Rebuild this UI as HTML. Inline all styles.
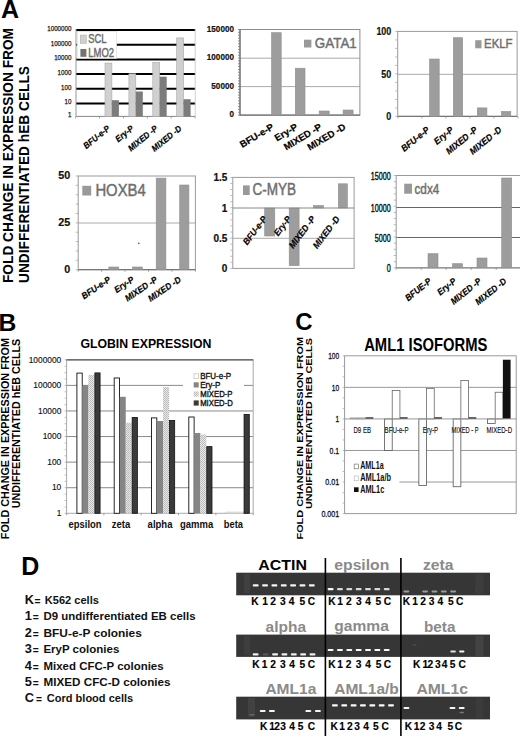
<!DOCTYPE html><html><head><meta charset="utf-8"><style>html,body{margin:0;padding:0;background:#fff;width:520px;height:738px;overflow:hidden}svg{display:block;font-family:"Liberation Sans",sans-serif}</style></head><body>
<svg width="520" height="738" viewBox="0 0 520 738">
<defs><pattern id="hatch" width="2" height="2" patternUnits="userSpaceOnUse"><rect width="2" height="2" fill="#e8e8e8"/><rect width="1" height="1" fill="#b8b8b8"/><rect x="1" y="1" width="1" height="1" fill="#c0c0c0"/></pattern></defs>
<rect width="520" height="738" fill="#fff"/>
<text x="0.9" y="17.8" font-size="25" font-weight="bold">A</text>
<text transform="translate(12.7 283) rotate(-90)" font-size="14.2" font-weight="bold" textLength="255" lengthAdjust="spacingAndGlyphs">FOLD CHANGE IN EXPRESSION FROM</text>
<text transform="translate(29 283) rotate(-90)" font-size="14.2" font-weight="bold" textLength="217" lengthAdjust="spacingAndGlyphs">UNDIFFERENTIATED hEB CELLS</text>
<line x1="76" y1="30" x2="195.2" y2="30" stroke="#000" stroke-width="2"/>
<line x1="76" y1="44.7" x2="195.2" y2="44.7" stroke="#000" stroke-width="2"/>
<line x1="76" y1="59.4" x2="195.2" y2="59.4" stroke="#000" stroke-width="2"/>
<line x1="76" y1="74.1" x2="195.2" y2="74.1" stroke="#000" stroke-width="2"/>
<line x1="76" y1="88.8" x2="195.2" y2="88.8" stroke="#000" stroke-width="2"/>
<line x1="76" y1="103.4" x2="195.2" y2="103.4" stroke="#000" stroke-width="2"/>
<line x1="76" y1="116.4" x2="195.2" y2="116.4" stroke="#888" stroke-width="1"/>
<line x1="76" y1="29" x2="76" y2="116.4" stroke="#999" stroke-width="1"/>
<line x1="195.2" y1="29" x2="195.2" y2="116.4" stroke="#c4c4c4" stroke-width="0.8"/>
<line x1="75.6" y1="116.4" x2="75.6" y2="118.4" stroke="#888" stroke-width="0.8"/>
<line x1="99.5" y1="116.4" x2="99.5" y2="118.4" stroke="#888" stroke-width="0.8"/>
<line x1="123.4" y1="116.4" x2="123.4" y2="118.4" stroke="#888" stroke-width="0.8"/>
<line x1="147.3" y1="116.4" x2="147.3" y2="118.4" stroke="#888" stroke-width="0.8"/>
<line x1="171.2" y1="116.4" x2="171.2" y2="118.4" stroke="#888" stroke-width="0.8"/>
<line x1="195.1" y1="116.4" x2="195.1" y2="118.4" stroke="#888" stroke-width="0.8"/>
<text x="71.4" y="30.9" font-size="7.8" text-anchor="end" fill="#111" textLength="24.15" lengthAdjust="spacingAndGlyphs" stroke="#111" stroke-width="0.25">1000000</text>
<text x="71.4" y="45.6" font-size="7.8" text-anchor="end" fill="#111" textLength="20.7" lengthAdjust="spacingAndGlyphs" stroke="#111" stroke-width="0.25">100000</text>
<text x="71.4" y="60.3" font-size="7.8" text-anchor="end" fill="#111" textLength="17.25" lengthAdjust="spacingAndGlyphs" stroke="#111" stroke-width="0.25">10000</text>
<text x="71.4" y="75" font-size="7.8" text-anchor="end" fill="#111" textLength="13.8" lengthAdjust="spacingAndGlyphs" stroke="#111" stroke-width="0.25">1000</text>
<text x="71.4" y="89.7" font-size="7.8" text-anchor="end" fill="#111" textLength="10.35" lengthAdjust="spacingAndGlyphs" stroke="#111" stroke-width="0.25">100</text>
<text x="71.4" y="104.3" font-size="7.8" text-anchor="end" fill="#111" textLength="6.9" lengthAdjust="spacingAndGlyphs" stroke="#111" stroke-width="0.25">10</text>
<text x="71.4" y="117.3" font-size="7.8" text-anchor="end" fill="#111" textLength="3.45" lengthAdjust="spacingAndGlyphs" stroke="#111" stroke-width="0.25">1</text>
<rect x="105" y="63.1" width="6.9" height="53.3" fill="#d0d0d0" stroke="#a8a8a8" stroke-width="0.6"/>
<rect x="111.9" y="100.2" width="7" height="16.2" fill="#7c7c7c"/>
<rect x="128.9" y="73.8" width="6.9" height="42.6" fill="#d0d0d0" stroke="#a8a8a8" stroke-width="0.6"/>
<rect x="135.8" y="91.5" width="7" height="24.9" fill="#7c7c7c"/>
<rect x="152.8" y="62.3" width="6.9" height="54.1" fill="#d0d0d0" stroke="#a8a8a8" stroke-width="0.6"/>
<rect x="159.7" y="76.7" width="7" height="39.7" fill="#7c7c7c"/>
<rect x="176.7" y="37.9" width="6.9" height="78.5" fill="#d0d0d0" stroke="#a8a8a8" stroke-width="0.6"/>
<rect x="183.6" y="99.2" width="7" height="17.2" fill="#7c7c7c"/>
<rect x="77.2" y="31.4" width="39.5" height="27" fill="#fff" stroke="#d8d8d8" stroke-width="0.6"/>
<rect x="80.3" y="35.1" width="6" height="8.3" fill="#d0d0d0" stroke="#b0b0b0" stroke-width="0.6"/>
<text x="88.3" y="42.9" font-size="12.2" fill="#686868" textLength="18.2" lengthAdjust="spacingAndGlyphs" stroke="#6e6e6e" stroke-width="0.45">SCL</text>
<rect x="80.4" y="49" width="6" height="7.8" fill="#737373"/>
<text x="88.3" y="56.8" font-size="12.2" fill="#686868" textLength="25.8" lengthAdjust="spacingAndGlyphs" stroke="#6e6e6e" stroke-width="0.45">LMO2</text>
<text transform="translate(110.5 129.6) rotate(-39) scale(0.89 1)" font-size="8.9" font-weight="bold" font-style="italic" text-anchor="end" stroke="#000" stroke-width="0.2">BFU-e-P</text>
<text transform="translate(134.4 129.6) rotate(-39) scale(0.89 1)" font-size="8.9" font-weight="bold" font-style="italic" text-anchor="end" stroke="#000" stroke-width="0.2">Ery-P</text>
<text transform="translate(158.3 129.6) rotate(-39) scale(0.89 1)" font-size="8.9" font-weight="bold" font-style="italic" text-anchor="end" stroke="#000" stroke-width="0.2">MIXED -P</text>
<text transform="translate(182.2 129.6) rotate(-39) scale(0.89 1)" font-size="8.9" font-weight="bold" font-style="italic" text-anchor="end" stroke="#000" stroke-width="0.2">MIXED -D</text>
<line x1="240" y1="58.2" x2="359.9" y2="58.2" stroke="#aaa" stroke-width="1"/>
<line x1="240" y1="86.6" x2="359.9" y2="86.6" stroke="#aaa" stroke-width="1"/>
<rect x="240" y="29.5" width="119.9" height="85.6" fill="none" stroke="#8c8c8c" stroke-width="1"/>
<line x1="240" y1="115.1" x2="359.9" y2="115.1" stroke="#777" stroke-width="1.2"/>
<line x1="240" y1="29.5" x2="240" y2="115.1" stroke="#6a6a6a" stroke-width="1.1"/>
<path d="M238 115.1h2M238 112.25h2M238 109.39h2M238 106.54h2M238 103.69h2M238 100.83h2M238 97.98h2M238 95.13h2M238 92.27h2M238 89.42h2M238 86.57h2M238 83.71h2M238 80.86h2M238 78.01h2M238 75.15h2M238 72.3h2M238 69.45h2M238 66.59h2M238 63.74h2M238 60.89h2M238 58.03h2M238 55.18h2M238 52.33h2M238 49.47h2M238 46.62h2M238 43.77h2M238 40.91h2M238 38.06h2M238 35.21h2M238 32.35h2M238 29.5h2" stroke="#777" stroke-width="0.8" fill="none"/>
<text x="234" y="31.6" font-size="9.2" font-weight="bold" text-anchor="end" fill="#111" textLength="27.18" lengthAdjust="spacingAndGlyphs" stroke="#111" stroke-width="0.2">150000</text>
<text x="234" y="60.3" font-size="9.2" font-weight="bold" text-anchor="end" fill="#111" textLength="27.18" lengthAdjust="spacingAndGlyphs" stroke="#111" stroke-width="0.2">100000</text>
<text x="234" y="88.7" font-size="9.2" font-weight="bold" text-anchor="end" fill="#111" textLength="22.65" lengthAdjust="spacingAndGlyphs" stroke="#111" stroke-width="0.2">50000</text>
<text x="234" y="117.2" font-size="9.2" font-weight="bold" text-anchor="end" fill="#111" textLength="4.53" lengthAdjust="spacingAndGlyphs" stroke="#111" stroke-width="0.2">0</text>
<rect x="271.6" y="32.7" width="9.6" height="82.4" fill="#9d9d9d" stroke="#8e8e8e" stroke-width="0.6"/>
<rect x="295.3" y="68.2" width="9.7" height="46.9" fill="#9d9d9d" stroke="#8e8e8e" stroke-width="0.6"/>
<rect x="319.2" y="111" width="10" height="4.1" fill="#9d9d9d" stroke="#8e8e8e" stroke-width="0.6"/>
<rect x="343.1" y="110" width="10" height="5.1" fill="#9d9d9d" stroke="#8e8e8e" stroke-width="0.6"/>
<rect x="304" y="39.7" width="7.4" height="7.8" fill="#999"/>
<text x="314.8" y="47.6" font-size="14.6" fill="#6e6e6e" textLength="42" lengthAdjust="spacingAndGlyphs" stroke="#6e6e6e" stroke-width="0.45">GATA1</text>
<text transform="translate(274.4 128.7) rotate(-31)" font-size="9.5" font-weight="bold" text-anchor="end" stroke="#000" stroke-width="0.2">BFU-e-P</text>
<text transform="translate(298.4 128.7) rotate(-31)" font-size="9.5" font-weight="bold" text-anchor="end" stroke="#000" stroke-width="0.2">Ery-P</text>
<text transform="translate(322.4 128.7) rotate(-31)" font-size="9.5" font-weight="bold" text-anchor="end" stroke="#000" stroke-width="0.2">MIXED -P</text>
<text transform="translate(346.4 128.7) rotate(-31)" font-size="9.5" font-weight="bold" text-anchor="end" stroke="#000" stroke-width="0.2">MIXED -D</text>
<line x1="397.7" y1="74.3" x2="517.1" y2="74.3" stroke="#aaa" stroke-width="1"/>
<rect x="397.7" y="31.4" width="119.4" height="85" fill="none" stroke="#999" stroke-width="1"/>
<line x1="397.7" y1="116.4" x2="517.1" y2="116.4" stroke="#777" stroke-width="1.2"/>
<path d="M395.2 116.4h2.5M395.2 107.9h2.5M395.2 99.4h2.5M395.2 90.9h2.5M395.2 82.4h2.5M395.2 73.9h2.5M395.2 65.4h2.5M395.2 56.9h2.5M395.2 48.4h2.5M395.2 39.9h2.5M395.2 31.4h2.5" stroke="#aaa" stroke-width="0.8" fill="none"/>
<text x="391.3" y="34.8" font-size="11.2" font-weight="bold" text-anchor="end" fill="#111" textLength="14.91" lengthAdjust="spacingAndGlyphs" stroke="#111" stroke-width="0.2">100</text>
<text x="391.3" y="77.7" font-size="11.2" font-weight="bold" text-anchor="end" fill="#111" textLength="9.94" lengthAdjust="spacingAndGlyphs" stroke="#111" stroke-width="0.2">50</text>
<text x="391.3" y="119.8" font-size="11.2" font-weight="bold" text-anchor="end" fill="#111" textLength="4.97" lengthAdjust="spacingAndGlyphs" stroke="#111" stroke-width="0.2">0</text>
<rect x="429.6" y="59" width="9.6" height="57.4" fill="#9d9d9d" stroke="#8e8e8e" stroke-width="0.6"/>
<rect x="453.3" y="37.7" width="9.4" height="78.7" fill="#9d9d9d" stroke="#8e8e8e" stroke-width="0.6"/>
<rect x="477.3" y="107.9" width="9.6" height="8.5" fill="#9d9d9d" stroke="#8e8e8e" stroke-width="0.6"/>
<rect x="501.5" y="111.5" width="9.3" height="4.9" fill="#9d9d9d" stroke="#8e8e8e" stroke-width="0.6"/>
<line x1="398" y1="116.4" x2="398" y2="118.4" stroke="#888" stroke-width="0.8"/>
<line x1="422" y1="116.4" x2="422" y2="118.4" stroke="#888" stroke-width="0.8"/>
<line x1="446" y1="116.4" x2="446" y2="118.4" stroke="#888" stroke-width="0.8"/>
<line x1="470" y1="116.4" x2="470" y2="118.4" stroke="#888" stroke-width="0.8"/>
<line x1="494" y1="116.4" x2="494" y2="118.4" stroke="#888" stroke-width="0.8"/>
<line x1="518" y1="116.4" x2="518" y2="118.4" stroke="#888" stroke-width="0.8"/>
<rect x="475.2" y="40.2" width="6.3" height="8.1" fill="#999"/>
<text x="484" y="48.4" font-size="13.6" fill="#6e6e6e" textLength="28.6" lengthAdjust="spacingAndGlyphs" stroke="#6e6e6e" stroke-width="0.45">EKLF</text>
<text transform="translate(430.2 131) rotate(-39) scale(0.91 1)" font-size="9.3" font-weight="bold" font-style="italic" text-anchor="end" stroke="#000" stroke-width="0.2">BFU-e-P</text>
<text transform="translate(454.2 131) rotate(-39) scale(0.91 1)" font-size="9.3" font-weight="bold" font-style="italic" text-anchor="end" stroke="#000" stroke-width="0.2">Ery-P</text>
<text transform="translate(478.2 131) rotate(-39) scale(0.91 1)" font-size="9.3" font-weight="bold" font-style="italic" text-anchor="end" stroke="#000" stroke-width="0.2">MIXED -P</text>
<text transform="translate(502.2 131) rotate(-39) scale(0.91 1)" font-size="9.3" font-weight="bold" font-style="italic" text-anchor="end" stroke="#000" stroke-width="0.2">MIXED -D</text>
<line x1="78.2" y1="223" x2="195.4" y2="223" stroke="#aaa" stroke-width="1"/>
<rect x="78.2" y="176" width="117.2" height="93.7" fill="none" stroke="#999" stroke-width="1"/>
<line x1="78.2" y1="269.7" x2="195.4" y2="269.7" stroke="#777" stroke-width="1.2"/>
<path d="M75.7 269.7h2.5M75.7 260.33h2.5M75.7 250.96h2.5M75.7 241.59h2.5M75.7 232.22h2.5M75.7 222.85h2.5M75.7 213.48h2.5M75.7 204.11h2.5M75.7 194.74h2.5M75.7 185.37h2.5M75.7 176h2.5" stroke="#aaa" stroke-width="0.8" fill="none"/>
<line x1="78.2" y1="269.7" x2="78.2" y2="271.7" stroke="#888" stroke-width="0.8"/>
<line x1="101.64" y1="269.7" x2="101.64" y2="271.7" stroke="#888" stroke-width="0.8"/>
<line x1="125.08" y1="269.7" x2="125.08" y2="271.7" stroke="#888" stroke-width="0.8"/>
<line x1="148.52" y1="269.7" x2="148.52" y2="271.7" stroke="#888" stroke-width="0.8"/>
<line x1="171.96" y1="269.7" x2="171.96" y2="271.7" stroke="#888" stroke-width="0.8"/>
<line x1="195.4" y1="269.7" x2="195.4" y2="271.7" stroke="#888" stroke-width="0.8"/>
<text x="70.2" y="179.2" font-size="11.8" font-weight="bold" text-anchor="end" fill="#111" textLength="12" lengthAdjust="spacingAndGlyphs" stroke="#111" stroke-width="0.2">50</text>
<text x="70.2" y="226.2" font-size="11.8" font-weight="bold" text-anchor="end" fill="#111" textLength="12" lengthAdjust="spacingAndGlyphs" stroke="#111" stroke-width="0.2">25</text>
<text x="70.2" y="272.9" font-size="11.8" font-weight="bold" text-anchor="end" fill="#111" textLength="6" lengthAdjust="spacingAndGlyphs" stroke="#111" stroke-width="0.2">0</text>
<rect x="108.8" y="267" width="10" height="2.7" fill="#9d9d9d" stroke="#8e8e8e" stroke-width="0.6"/>
<rect x="132.6" y="267" width="9.7" height="2.7" fill="#9d9d9d" stroke="#8e8e8e" stroke-width="0.6"/>
<rect x="156.2" y="178.1" width="9.7" height="91.6" fill="#9d9d9d" stroke="#8e8e8e" stroke-width="0.6"/>
<rect x="179.7" y="185" width="9.2" height="84.7" fill="#9d9d9d" stroke="#8e8e8e" stroke-width="0.6"/>
<circle cx="138.8" cy="243.4" r="0.8" fill="#555"/>
<rect x="82.3" y="185.8" width="8.9" height="9.7" fill="#999"/>
<text x="95.4" y="195.7" font-size="16" fill="#6e6e6e" textLength="50.3" lengthAdjust="spacingAndGlyphs" stroke="#6e6e6e" stroke-width="0.45">HOXB4</text>
<text transform="translate(111.34 281) rotate(-34) scale(0.93 1)" font-size="9" font-weight="bold" font-style="italic" text-anchor="end" stroke="#000" stroke-width="0.2">BFU-e-P</text>
<text transform="translate(134.78 281) rotate(-34) scale(0.93 1)" font-size="9" font-weight="bold" font-style="italic" text-anchor="end" stroke="#000" stroke-width="0.2">Ery-P</text>
<text transform="translate(158.22 281) rotate(-34) scale(0.93 1)" font-size="9" font-weight="bold" font-style="italic" text-anchor="end" stroke="#000" stroke-width="0.2">MIXED -P</text>
<text transform="translate(181.66 281) rotate(-34) scale(0.93 1)" font-size="9" font-weight="bold" font-style="italic" text-anchor="end" stroke="#000" stroke-width="0.2">MIXED -D</text>
<line x1="232.8" y1="238.3" x2="354.1" y2="238.3" stroke="#aaa" stroke-width="1"/>
<rect x="232.8" y="177.4" width="121.3" height="91" fill="none" stroke="#999" stroke-width="1"/>
<path d="M230.3 268.4h2.5M230.3 262.33h2.5M230.3 256.27h2.5M230.3 250.2h2.5M230.3 244.13h2.5M230.3 238.07h2.5M230.3 232h2.5M230.3 225.93h2.5M230.3 219.87h2.5M230.3 213.8h2.5M230.3 207.73h2.5M230.3 201.67h2.5M230.3 195.6h2.5M230.3 189.53h2.5M230.3 183.47h2.5M230.3 177.4h2.5" stroke="#aaa" stroke-width="0.8" fill="none"/>
<rect x="264.7" y="208" width="10.1" height="28" fill="#9d9d9d" stroke="#8e8e8e" stroke-width="0.6"/>
<rect x="289.2" y="208" width="9.9" height="57.6" fill="#9d9d9d" stroke="#8e8e8e" stroke-width="0.6"/>
<rect x="313.5" y="205.5" width="10" height="2.5" fill="#9d9d9d" stroke="#8e8e8e" stroke-width="0.6"/>
<rect x="338.3" y="183.8" width="9.1" height="24.2" fill="#9d9d9d" stroke="#8e8e8e" stroke-width="0.6"/>
<line x1="232.8" y1="208" x2="354.1" y2="208" stroke="#888" stroke-width="1"/>
<text x="227.4" y="181" font-size="10" font-weight="bold" text-anchor="end" fill="#111" stroke="#111" stroke-width="0.2">1.5</text>
<text x="227.4" y="211.6" font-size="10" font-weight="bold" text-anchor="end" fill="#111" stroke="#111" stroke-width="0.2">1</text>
<text x="227.4" y="241.9" font-size="10" font-weight="bold" text-anchor="end" fill="#111" stroke="#111" stroke-width="0.2">0.5</text>
<text x="227.4" y="272" font-size="10" font-weight="bold" text-anchor="end" fill="#111" stroke="#111" stroke-width="0.2">0</text>
<rect x="243" y="185.4" width="6.7" height="9.6" fill="#999"/>
<text x="252.5" y="195.4" font-size="15.6" fill="#6e6e6e" textLength="43.6" lengthAdjust="spacingAndGlyphs" stroke="#6e6e6e" stroke-width="0.45">C-MYB</text>
<text transform="translate(267.36 219) rotate(-53) scale(0.93 1)" font-size="9.1" font-weight="bold" font-style="italic" text-anchor="end" stroke="#000" stroke-width="0.2">BFU-e-P</text>
<text transform="translate(291.62 219) rotate(-53) scale(0.93 1)" font-size="9.1" font-weight="bold" font-style="italic" text-anchor="end" stroke="#000" stroke-width="0.2">Ery-P</text>
<text transform="translate(315.88 219) rotate(-53) scale(0.93 1)" font-size="9.1" font-weight="bold" font-style="italic" text-anchor="end" stroke="#000" stroke-width="0.2">MIXED -P</text>
<text transform="translate(340.14 219) rotate(-53) scale(0.93 1)" font-size="9.1" font-weight="bold" font-style="italic" text-anchor="end" stroke="#000" stroke-width="0.2">MIXED -D</text>
<line x1="396.2" y1="207.5" x2="521" y2="207.5" stroke="#666" stroke-width="1.2"/>
<line x1="396.2" y1="237.5" x2="521" y2="237.5" stroke="#666" stroke-width="1.2"/>
<line x1="396.2" y1="175.5" x2="521" y2="175.5" stroke="#999" stroke-width="1"/>
<line x1="396.2" y1="175.5" x2="396.2" y2="267.8" stroke="#999" stroke-width="1"/>
<line x1="396.2" y1="267.8" x2="521" y2="267.8" stroke="#777" stroke-width="1.2"/>
<path d="M393.7 267.8h2.5M393.7 261.65h2.5M393.7 255.49h2.5M393.7 249.34h2.5M393.7 243.19h2.5M393.7 237.03h2.5M393.7 230.88h2.5M393.7 224.73h2.5M393.7 218.57h2.5M393.7 212.42h2.5M393.7 206.27h2.5M393.7 200.11h2.5M393.7 193.96h2.5M393.7 187.81h2.5M393.7 181.65h2.5M393.7 175.5h2.5" stroke="#aaa" stroke-width="0.8" fill="none"/>
<line x1="396.2" y1="267.8" x2="396.2" y2="269.8" stroke="#888" stroke-width="0.8"/>
<line x1="421.2" y1="267.8" x2="421.2" y2="269.8" stroke="#888" stroke-width="0.8"/>
<line x1="446.2" y1="267.8" x2="446.2" y2="269.8" stroke="#888" stroke-width="0.8"/>
<line x1="471.2" y1="267.8" x2="471.2" y2="269.8" stroke="#888" stroke-width="0.8"/>
<line x1="496.2" y1="267.8" x2="496.2" y2="269.8" stroke="#888" stroke-width="0.8"/>
<line x1="521.2" y1="267.8" x2="521.2" y2="269.8" stroke="#888" stroke-width="0.8"/>
<text x="390.8" y="179.6" font-size="10.2" text-anchor="end" fill="#111" textLength="20" lengthAdjust="spacingAndGlyphs" stroke="#111" stroke-width="0.4">15000</text>
<text x="390.8" y="211.6" font-size="10.2" text-anchor="end" fill="#111" textLength="20" lengthAdjust="spacingAndGlyphs" stroke="#111" stroke-width="0.4">10000</text>
<text x="390.8" y="241.6" font-size="10.2" text-anchor="end" fill="#111" textLength="16" lengthAdjust="spacingAndGlyphs" stroke="#111" stroke-width="0.4">5000</text>
<text x="390.8" y="271.9" font-size="10.2" text-anchor="end" fill="#111" textLength="4" lengthAdjust="spacingAndGlyphs" stroke="#111" stroke-width="0.4">0</text>
<rect x="428" y="253.7" width="10" height="14.1" fill="#9d9d9d" stroke="#8e8e8e" stroke-width="0.6"/>
<rect x="452.5" y="263.7" width="10" height="4.1" fill="#9d9d9d" stroke="#8e8e8e" stroke-width="0.6"/>
<rect x="477" y="258" width="10" height="9.8" fill="#9d9d9d" stroke="#8e8e8e" stroke-width="0.6"/>
<rect x="501.7" y="178" width="10" height="89.8" fill="#9d9d9d" stroke="#8e8e8e" stroke-width="0.6"/>
<rect x="404.2" y="183.7" width="7.8" height="10" fill="#999"/>
<text x="414.5" y="194.2" font-size="14.3" fill="#6e6e6e" textLength="24.8" lengthAdjust="spacingAndGlyphs" stroke="#6e6e6e" stroke-width="0.45">cdx4</text>
<text transform="translate(432 282.4) rotate(-38.7) scale(0.89 1)" font-size="9.2" font-weight="bold" font-style="italic" text-anchor="end" stroke="#000" stroke-width="0.2">BFUE-P</text>
<text transform="translate(457 282.4) rotate(-38.7) scale(0.89 1)" font-size="9.2" font-weight="bold" font-style="italic" text-anchor="end" stroke="#000" stroke-width="0.2">Ery-P</text>
<text transform="translate(482 282.4) rotate(-38.7) scale(0.89 1)" font-size="9.2" font-weight="bold" font-style="italic" text-anchor="end" stroke="#000" stroke-width="0.2">MIXED -P</text>
<text transform="translate(507 282.4) rotate(-38.7) scale(0.89 1)" font-size="9.2" font-weight="bold" font-style="italic" text-anchor="end" stroke="#000" stroke-width="0.2">MIXED -D</text>
<text x="-1.6" y="330.6" font-size="24.7" font-weight="bold">B</text>
<text transform="translate(8.6 539.2) rotate(-90)" font-size="10" font-weight="bold" textLength="201.2" lengthAdjust="spacingAndGlyphs">FOLD CHANGE IN EXPRESSION FROM</text>
<text transform="translate(19.6 508.3) rotate(-90)" font-size="10" font-weight="bold" textLength="169.5" lengthAdjust="spacingAndGlyphs">UNDIFFERENTIATED hEB CELLS</text>
<text x="80.4" y="347.7" font-size="12" font-weight="bold" textLength="131" lengthAdjust="spacingAndGlyphs">GLOBIN EXPRESSION</text>
<line x1="66.6" y1="385.38" x2="253.2" y2="385.38" stroke="#8a8a8a" stroke-width="1"/>
<line x1="66.6" y1="410.97" x2="253.2" y2="410.97" stroke="#8a8a8a" stroke-width="1"/>
<line x1="66.6" y1="436.55" x2="253.2" y2="436.55" stroke="#8a8a8a" stroke-width="1"/>
<line x1="66.6" y1="462.13" x2="253.2" y2="462.13" stroke="#8a8a8a" stroke-width="1"/>
<line x1="66.6" y1="487.72" x2="253.2" y2="487.72" stroke="#8a8a8a" stroke-width="1"/>
<rect x="66.6" y="359.8" width="186.6" height="153.5" fill="none" stroke="#aaa" stroke-width="1"/>
<line x1="66.6" y1="359.8" x2="253.2" y2="359.8" stroke="#555" stroke-width="1.3"/>
<path d="M64.6 513.3h2M64.6 506.9h2M64.6 500.51h2M64.6 494.11h2M64.6 487.72h2M64.6 481.32h2M64.6 474.92h2M64.6 468.53h2M64.6 462.13h2M64.6 455.74h2M64.6 449.34h2M64.6 442.95h2M64.6 436.55h2M64.6 430.15h2M64.6 423.76h2M64.6 417.36h2M64.6 410.97h2M64.6 404.57h2M64.6 398.18h2M64.6 391.78h2M64.6 385.38h2M64.6 378.99h2M64.6 372.59h2M64.6 366.2h2M64.6 359.8h2" stroke="#aaa" stroke-width="0.8" fill="none"/>
<line x1="66.6" y1="513.3" x2="66.6" y2="515.3" stroke="#888" stroke-width="0.8"/>
<line x1="103.92" y1="513.3" x2="103.92" y2="515.3" stroke="#888" stroke-width="0.8"/>
<line x1="141.24" y1="513.3" x2="141.24" y2="515.3" stroke="#888" stroke-width="0.8"/>
<line x1="178.56" y1="513.3" x2="178.56" y2="515.3" stroke="#888" stroke-width="0.8"/>
<line x1="215.88" y1="513.3" x2="215.88" y2="515.3" stroke="#888" stroke-width="0.8"/>
<line x1="253.2" y1="513.3" x2="253.2" y2="515.3" stroke="#888" stroke-width="0.8"/>
<text x="61.3" y="362.5" font-size="9.2" text-anchor="end" fill="#111" textLength="32.62" lengthAdjust="spacingAndGlyphs" stroke="#111" stroke-width="0.15">1000000</text>
<text x="61.3" y="388.08" font-size="9.2" text-anchor="end" fill="#111" textLength="27.96" lengthAdjust="spacingAndGlyphs" stroke="#111" stroke-width="0.15">100000</text>
<text x="61.3" y="413.67" font-size="9.2" text-anchor="end" fill="#111" textLength="23.3" lengthAdjust="spacingAndGlyphs" stroke="#111" stroke-width="0.15">10000</text>
<text x="61.3" y="439.25" font-size="9.2" text-anchor="end" fill="#111" textLength="18.64" lengthAdjust="spacingAndGlyphs" stroke="#111" stroke-width="0.15">1000</text>
<text x="61.3" y="464.83" font-size="9.2" text-anchor="end" fill="#111" textLength="13.98" lengthAdjust="spacingAndGlyphs" stroke="#111" stroke-width="0.15">100</text>
<text x="61.3" y="490.42" font-size="9.2" text-anchor="end" fill="#111" textLength="9.32" lengthAdjust="spacingAndGlyphs" stroke="#111" stroke-width="0.15">10</text>
<text x="61.3" y="516" font-size="9.2" text-anchor="end" fill="#111" textLength="4.66" lengthAdjust="spacingAndGlyphs" stroke="#111" stroke-width="0.15">1</text>
<rect x="183" y="368" width="61" height="42" fill="#fff"/>
<rect x="76.9" y="373.1" width="5.32" height="140.2" fill="#fff" stroke="#111" stroke-width="0.9"/>
<rect x="82.42" y="385.3" width="6.02" height="128" fill="#858585"/>
<rect x="88.44" y="374.8" width="6.02" height="138.5" fill="url(#hatch)"/>
<rect x="94.86" y="372.9" width="5.22" height="140.4" fill="#3a3a3a" stroke="#111" stroke-width="0.8"/>
<rect x="114.2" y="378" width="5.32" height="135.3" fill="#fff" stroke="#111" stroke-width="0.9"/>
<rect x="119.72" y="396.8" width="6.02" height="116.5" fill="#858585"/>
<rect x="125.74" y="422.7" width="6.02" height="90.6" fill="url(#hatch)"/>
<rect x="132.16" y="417.4" width="5.22" height="95.9" fill="#3a3a3a" stroke="#111" stroke-width="0.8"/>
<rect x="151.5" y="417.9" width="5.32" height="95.4" fill="#fff" stroke="#111" stroke-width="0.9"/>
<rect x="157.02" y="421" width="6.02" height="92.3" fill="#858585"/>
<rect x="163.04" y="387" width="6.02" height="126.3" fill="url(#hatch)"/>
<rect x="169.46" y="420.4" width="5.22" height="92.9" fill="#3a3a3a" stroke="#111" stroke-width="0.8"/>
<rect x="188.8" y="417" width="5.32" height="96.3" fill="#fff" stroke="#111" stroke-width="0.9"/>
<rect x="194.32" y="433" width="6.02" height="80.3" fill="#858585"/>
<rect x="200.34" y="434.5" width="6.02" height="78.8" fill="url(#hatch)"/>
<rect x="206.76" y="446.6" width="5.22" height="66.7" fill="#3a3a3a" stroke="#111" stroke-width="0.8"/>
<rect x="225.6" y="511.8" width="18.06" height="1.5" fill="#bbb"/>
<rect x="226.1" y="512.2" width="17.06" height="1.1" fill="#e4e4e4"/>
<rect x="244.06" y="414.4" width="5.22" height="98.9" fill="#3a3a3a" stroke="#111" stroke-width="0.8"/>
<text x="68.6" y="527.8" font-size="10.4" font-weight="bold" fill="#111" textLength="33" lengthAdjust="spacingAndGlyphs">epsilon</text>
<text x="111.8" y="527.8" font-size="10.4" font-weight="bold" fill="#111" textLength="18.5" lengthAdjust="spacingAndGlyphs">zeta</text>
<text x="147.6" y="527.8" font-size="10.4" font-weight="bold" fill="#111" textLength="24.9" lengthAdjust="spacingAndGlyphs">alpha</text>
<text x="180" y="527.8" font-size="10.4" font-weight="bold" fill="#111" textLength="33.2" lengthAdjust="spacingAndGlyphs">gamma</text>
<text x="223.8" y="527.8" font-size="10.4" font-weight="bold" fill="#111" textLength="19.2" lengthAdjust="spacingAndGlyphs">beta</text>
<rect x="194" y="373.8" width="4.5" height="4.6" fill="#fff" stroke="#bbb" stroke-width="0.7"/>
<text x="200.2" y="379.1" font-size="8.4" fill="#111" textLength="30.9" lengthAdjust="spacingAndGlyphs" stroke="#111" stroke-width="0.35">BFU-e-P</text>
<rect x="193.7" y="382.3" width="5" height="5.2" fill="#858585"/>
<text x="200.2" y="387.9" font-size="8.4" fill="#111" textLength="20.2" lengthAdjust="spacingAndGlyphs" stroke="#111" stroke-width="0.35">Ery-P</text>
<rect x="193.7" y="391.4" width="5" height="5.2" fill="url(#hatch)"/>
<text x="200.2" y="397" font-size="8.4" fill="#111" textLength="32.3" lengthAdjust="spacingAndGlyphs" stroke="#111" stroke-width="0.35">MIXED-P</text>
<rect x="193.7" y="400.4" width="5" height="5.2" fill="#3a3a3a"/>
<text x="200.2" y="406" font-size="8.4" fill="#111" textLength="32.6" lengthAdjust="spacingAndGlyphs" stroke="#111" stroke-width="0.35">MIXED-D</text>
<text x="295.3" y="329.6" font-size="24" font-weight="bold">C</text>
<text transform="translate(303.4 539.5) rotate(-90)" font-size="8.6" font-weight="bold" textLength="202.5" lengthAdjust="spacingAndGlyphs">FOLD CHANGE IN EXPRESSION FROM</text>
<text transform="translate(311.5 509.1) rotate(-90)" font-size="8.6" font-weight="bold" textLength="171" lengthAdjust="spacingAndGlyphs">UNDIFFERENTIATED hEB CELLS</text>
<text x="364.2" y="351.2" font-size="19" font-weight="bold" textLength="123.3" lengthAdjust="spacingAndGlyphs">AML1 ISOFORMS</text>
<line x1="344.6" y1="387.36" x2="516.2" y2="387.36" stroke="#999" stroke-width="1"/>
<line x1="344.6" y1="450.48" x2="516.2" y2="450.48" stroke="#999" stroke-width="1"/>
<line x1="344.6" y1="482.04" x2="516.2" y2="482.04" stroke="#999" stroke-width="1"/>
<rect x="344.6" y="355.8" width="171.6" height="157.8" fill="none" stroke="#999" stroke-width="1"/>
<path d="M342.6 513.6h2M342.6 503.08h2M342.6 492.56h2M342.6 482.04h2M342.6 471.52h2M342.6 461h2M342.6 450.48h2M342.6 439.96h2M342.6 429.44h2M342.6 418.92h2M342.6 408.4h2M342.6 397.88h2M342.6 387.36h2M342.6 376.84h2M342.6 366.32h2M342.6 355.8h2" stroke="#aaa" stroke-width="0.8" fill="none"/>
<rect x="350.2" y="417.87" width="7.7" height="1.05" fill="#e8e8e8" stroke="#999" stroke-width="0.7"/>
<rect x="357.9" y="417.87" width="7.7" height="1.05" fill="#e8e8e8" stroke="#999" stroke-width="0.7"/>
<rect x="365.6" y="417.37" width="7.7" height="1.55" fill="#111"/>
<rect x="384.52" y="418.92" width="7.7" height="31.56" fill="#fcfcfc" stroke="#555" stroke-width="0.8"/>
<rect x="392.22" y="390.42" width="7.7" height="28.5" fill="#fff" stroke="#666" stroke-width="0.8"/>
<rect x="399.92" y="417.37" width="7.7" height="1.55" fill="#111"/>
<rect x="418.84" y="418.92" width="7.7" height="66.53" fill="#fcfcfc" stroke="#555" stroke-width="0.8"/>
<rect x="426.54" y="388.35" width="7.7" height="30.57" fill="#fff" stroke="#666" stroke-width="0.8"/>
<rect x="434.24" y="417.37" width="7.7" height="1.55" fill="#111"/>
<rect x="453.16" y="418.92" width="7.7" height="67.81" fill="#fcfcfc" stroke="#555" stroke-width="0.8"/>
<rect x="460.86" y="380.5" width="7.7" height="38.42" fill="#fff" stroke="#666" stroke-width="0.8"/>
<rect x="468.56" y="417.37" width="7.7" height="1.55" fill="#111"/>
<rect x="487.48" y="418.92" width="7.7" height="4.5" fill="#fcfcfc" stroke="#555" stroke-width="0.8"/>
<rect x="495.18" y="392.25" width="7.7" height="26.67" fill="#fff" stroke="#666" stroke-width="0.8"/>
<rect x="502.88" y="359.74" width="7.7" height="59.18" fill="#111"/>
<line x1="344.6" y1="418.92" x2="516.2" y2="418.92" stroke="#999" stroke-width="1"/>
<text x="339.2" y="359" font-size="9.5" text-anchor="end" fill="#111" textLength="11" lengthAdjust="spacingAndGlyphs" stroke="#111" stroke-width="0.3">100</text>
<text x="339.2" y="390.56" font-size="9.5" text-anchor="end" fill="#111" textLength="7.4" lengthAdjust="spacingAndGlyphs" stroke="#111" stroke-width="0.3">10</text>
<text x="339.2" y="422.12" font-size="9.5" text-anchor="end" fill="#111" textLength="3.6" lengthAdjust="spacingAndGlyphs" stroke="#111" stroke-width="0.3">1</text>
<text x="339.2" y="453.68" font-size="9.5" text-anchor="end" fill="#111" textLength="9.6" lengthAdjust="spacingAndGlyphs" stroke="#111" stroke-width="0.3">0.1</text>
<text x="339.2" y="485.24" font-size="9.5" text-anchor="end" fill="#111" textLength="13.9" lengthAdjust="spacingAndGlyphs" stroke="#111" stroke-width="0.3">0.01</text>
<text x="339.2" y="516.8" font-size="9.5" text-anchor="end" fill="#111" textLength="17.8" lengthAdjust="spacingAndGlyphs" stroke="#111" stroke-width="0.3">0.001</text>
<text x="353.5" y="432.8" font-size="8.8" fill="#111" textLength="17.5" lengthAdjust="spacingAndGlyphs" stroke="#111" stroke-width="0.15">D9 EB</text>
<text x="384.6" y="432.8" font-size="8.8" fill="#111" textLength="23.9" lengthAdjust="spacingAndGlyphs" stroke="#111" stroke-width="0.15">BFU-e-P</text>
<text x="422.8" y="432.8" font-size="8.8" fill="#111" textLength="15.4" lengthAdjust="spacingAndGlyphs" stroke="#111" stroke-width="0.15">Ery-P</text>
<text x="451.6" y="432.8" font-size="8.8" fill="#111" textLength="27" lengthAdjust="spacingAndGlyphs" stroke="#111" stroke-width="0.15">MIXED - P</text>
<text x="486.5" y="432.8" font-size="8.8" fill="#111" textLength="25.5" lengthAdjust="spacingAndGlyphs" stroke="#111" stroke-width="0.15">MIXED-D</text>
<rect x="345.2" y="456" width="54.2" height="41" fill="#fff"/>
<rect x="354.2" y="464.1" width="4.4" height="4.7" fill="#fff" stroke="#777" stroke-width="0.7"/>
<text x="360.2" y="469.2" font-size="10" font-weight="bold" fill="#111" textLength="23.5" lengthAdjust="spacingAndGlyphs">AML1a</text>
<rect x="354.2" y="476" width="4.4" height="4.7" fill="#fff" stroke="#bbb" stroke-width="0.7"/>
<text x="360.2" y="481.2" font-size="10" font-weight="bold" fill="#111" textLength="30.8" lengthAdjust="spacingAndGlyphs">AML1a/b</text>
<rect x="354" y="487.3" width="4.6" height="4.7" fill="#111"/>
<text x="360.2" y="492.7" font-size="10" font-weight="bold" fill="#111" textLength="24.1" lengthAdjust="spacingAndGlyphs">AML1c</text>
<text x="21.3" y="575.4" font-size="25" font-weight="bold">D</text>
<text x="24.8" y="603.9" font-size="12.8" font-weight="bold" fill="#111">K</text>
<text x="34.6" y="604.8" font-size="11" font-weight="bold" fill="#111" textLength="6" lengthAdjust="spacingAndGlyphs">=</text>
<text x="44.8" y="603.9" font-size="10.9" font-weight="bold" fill="#111" textLength="54.1" lengthAdjust="spacingAndGlyphs">K562 cells</text>
<text x="24.8" y="620.1" font-size="12.8" font-weight="bold" fill="#111">1</text>
<text x="32.8" y="621" font-size="11" font-weight="bold" fill="#111" textLength="6" lengthAdjust="spacingAndGlyphs">=</text>
<text x="43.5" y="620.1" font-size="10.9" font-weight="bold" fill="#111" textLength="152" lengthAdjust="spacingAndGlyphs">D9 undifferentiated EB cells</text>
<text x="24.8" y="636.7" font-size="12.8" font-weight="bold" fill="#111">2</text>
<text x="32.8" y="637.6" font-size="11" font-weight="bold" fill="#111" textLength="6" lengthAdjust="spacingAndGlyphs">=</text>
<text x="43.5" y="636.7" font-size="10.9" font-weight="bold" fill="#111" textLength="98.3" lengthAdjust="spacingAndGlyphs">BFU-e-P colonies</text>
<text x="24.8" y="653.1" font-size="12.8" font-weight="bold" fill="#111">3</text>
<text x="32.8" y="654" font-size="11" font-weight="bold" fill="#111" textLength="6" lengthAdjust="spacingAndGlyphs">=</text>
<text x="43.4" y="653.1" font-size="10.9" font-weight="bold" fill="#111" textLength="75.9" lengthAdjust="spacingAndGlyphs">EryP colonies</text>
<text x="24.8" y="669.6" font-size="12.8" font-weight="bold" fill="#111">4</text>
<text x="32.8" y="670.5" font-size="11" font-weight="bold" fill="#111" textLength="6" lengthAdjust="spacingAndGlyphs">=</text>
<text x="43.5" y="669.6" font-size="10.9" font-weight="bold" fill="#111" textLength="120.1" lengthAdjust="spacingAndGlyphs">Mixed CFC-P colonies</text>
<text x="24.8" y="685.9" font-size="12.8" font-weight="bold" fill="#111">5</text>
<text x="32.8" y="686.8" font-size="11" font-weight="bold" fill="#111" textLength="6" lengthAdjust="spacingAndGlyphs">=</text>
<text x="43.5" y="685.9" font-size="10.9" font-weight="bold" fill="#111" textLength="127.1" lengthAdjust="spacingAndGlyphs">MIXED CFC-D colonies</text>
<text x="24.8" y="702.2" font-size="12.8" font-weight="bold" fill="#111">C</text>
<text x="36" y="703.1" font-size="11" font-weight="bold" fill="#111" textLength="6" lengthAdjust="spacingAndGlyphs">=</text>
<text x="46.8" y="702.2" font-size="10.9" font-weight="bold" fill="#111" textLength="86.4" lengthAdjust="spacingAndGlyphs">Cord blood cells</text>
<rect x="236.2" y="572.7" width="253.8" height="22.6" fill="#363636"/>
<rect x="236.2" y="634.6" width="253.8" height="22.3" fill="#363636"/>
<rect x="236.2" y="696.7" width="253.8" height="22.7" fill="#363636"/>
<rect x="244" y="574" width="6" height="19" fill="#404040"/>
<rect x="244" y="636" width="6" height="19" fill="#3e3e3e"/>
<rect x="248" y="698" width="7" height="19" fill="#424242"/>
<rect x="252.8" y="584.3" width="5.8" height="2.2" rx="0.8" fill="#f4f4f4"/>
<rect x="262.15" y="584.3" width="5.8" height="2.2" rx="0.8" fill="#f4f4f4"/>
<rect x="271.5" y="584.3" width="5.8" height="2.2" rx="0.8" fill="#f4f4f4"/>
<rect x="280.85" y="584.3" width="5.8" height="2.2" rx="0.8" fill="#f4f4f4"/>
<rect x="290.2" y="584.3" width="5.8" height="2.2" rx="0.8" fill="#f4f4f4"/>
<rect x="299.55" y="584.3" width="5.8" height="2.2" rx="0.8" fill="#f4f4f4"/>
<rect x="308.9" y="584.3" width="5.8" height="2.2" rx="0.8" fill="#f4f4f4"/>
<rect x="327.7" y="588.1" width="5.8" height="2.2" rx="0.8" fill="#f8f8f8"/>
<rect x="337.05" y="588.1" width="5.8" height="2.2" rx="0.8" fill="#d8d8d8"/>
<rect x="346.4" y="588.1" width="5.8" height="2.2" rx="0.8" fill="#d8d8d8"/>
<rect x="355.75" y="588.1" width="5.8" height="2.2" rx="0.8" fill="#d8d8d8"/>
<rect x="365.1" y="588.1" width="5.8" height="2.2" rx="0.8" fill="#d8d8d8"/>
<rect x="374.45" y="588.1" width="5.8" height="2.2" rx="0.8" fill="#d8d8d8"/>
<rect x="383.8" y="588.1" width="5.8" height="2.2" rx="0.8" fill="#d8d8d8"/>
<rect x="403.5" y="590.6" width="5.8" height="1.8" rx="0.8" fill="#9a9a9a"/>
<rect x="422.2" y="590.6" width="5.8" height="1.8" rx="0.8" fill="#9a9a9a"/>
<rect x="431.55" y="590.6" width="5.8" height="1.8" rx="0.8" fill="#9a9a9a"/>
<rect x="440.9" y="590.6" width="5.8" height="1.8" rx="0.8" fill="#9a9a9a"/>
<rect x="450.25" y="590.6" width="5.8" height="1.8" rx="0.8" fill="#9a9a9a"/>
<rect x="475.5" y="589.2" width="5" height="1.6" rx="0.8" fill="#999"/>
<rect x="252.7" y="653.3" width="5.8" height="2.2" rx="0.8" fill="#eeeeee"/>
<rect x="272.2" y="653.3" width="5.8" height="2.2" rx="0.8" fill="#eeeeee"/>
<rect x="281.55" y="653.3" width="5.8" height="2.2" rx="0.8" fill="#eeeeee"/>
<rect x="290.9" y="653.3" width="5.8" height="2.2" rx="0.8" fill="#eeeeee"/>
<rect x="300.25" y="653.3" width="5.8" height="2.2" rx="0.8" fill="#eeeeee"/>
<rect x="309.6" y="653.3" width="5.8" height="2.2" rx="0.8" fill="#eeeeee"/>
<rect x="262.8" y="653.3" width="5.8" height="2.2" rx="0.8" fill="#555"/>
<rect x="327.7" y="648.9" width="5.8" height="2.2" rx="0.8" fill="#fafafa"/>
<rect x="337.05" y="648.9" width="5.8" height="2.2" rx="0.8" fill="#fafafa"/>
<rect x="346.4" y="648.9" width="5.8" height="2.2" rx="0.8" fill="#fafafa"/>
<rect x="355.75" y="648.9" width="5.8" height="2.2" rx="0.8" fill="#fafafa"/>
<rect x="365.1" y="648.9" width="5.8" height="2.2" rx="0.8" fill="#fafafa"/>
<rect x="374.45" y="648.9" width="5.8" height="2.2" rx="0.8" fill="#fafafa"/>
<rect x="383.8" y="648.9" width="5.8" height="2.2" rx="0.8" fill="#fafafa"/>
<rect x="450.4" y="650.5" width="5.4" height="2" rx="0.8" fill="#e0e0e0"/>
<rect x="459.2" y="650.4" width="5.2" height="2.2" rx="0.8" fill="#f4f4f4"/>
<rect x="412.5" y="644.4" width="4" height="1.2" rx="0.8" fill="#555"/>
<rect x="259.8" y="709.9" width="5.8" height="2.2" rx="0.8" fill="#f4f4f4"/>
<rect x="269" y="709.9" width="5.8" height="2.2" rx="0.8" fill="#f4f4f4"/>
<rect x="305.4" y="709.9" width="5.8" height="2.2" rx="0.8" fill="#f4f4f4"/>
<rect x="315" y="709.9" width="5.8" height="2.2" rx="0.8" fill="#f4f4f4"/>
<rect x="249.5" y="714" width="5" height="1.6" rx="0.8" fill="#666"/>
<rect x="332" y="704.3" width="5.8" height="2.2" rx="0.8" fill="#fafafa"/>
<rect x="341.35" y="704.3" width="5.8" height="2.2" rx="0.8" fill="#fafafa"/>
<rect x="350.7" y="704.3" width="5.8" height="2.2" rx="0.8" fill="#fafafa"/>
<rect x="360.05" y="704.3" width="5.8" height="2.2" rx="0.8" fill="#fafafa"/>
<rect x="369.4" y="704.3" width="5.8" height="2.2" rx="0.8" fill="#fafafa"/>
<rect x="378.75" y="704.3" width="5.8" height="2.2" rx="0.8" fill="#fafafa"/>
<rect x="388.1" y="704.3" width="5.8" height="2.2" rx="0.8" fill="#fafafa"/>
<rect x="403.5" y="706.9" width="5.8" height="2.2" rx="0.8" fill="#f4f4f4"/>
<rect x="449.6" y="706.9" width="5.8" height="2.2" rx="0.8" fill="#f4f4f4"/>
<rect x="458.8" y="706.9" width="5.8" height="2.2" rx="0.8" fill="#f4f4f4"/>
<rect x="459.5" y="711.75" width="4.5" height="1.5" rx="0.8" fill="#777"/>
<rect x="476.5" y="715.65" width="4" height="1.5" rx="0.8" fill="#666"/>
<rect x="476" y="589.1" width="6" height="1.8" rx="0.8" fill="#888"/>
<rect x="476.5" y="585.4" width="5" height="1.2" rx="0.8" fill="#555"/>
<rect x="475.5" y="574" width="8" height="20" fill="#3d3d3d"/>
<rect x="475.5" y="636" width="8" height="20" fill="#434343"/>
<rect x="476" y="698" width="7" height="20" fill="#3b3b3b"/>
<line x1="325.4" y1="558" x2="325.4" y2="736" stroke="#000" stroke-width="1.6"/>
<line x1="400.9" y1="558" x2="400.9" y2="736" stroke="#000" stroke-width="1.6"/>
<text x="258.3" y="570.4" font-size="15.4" font-weight="bold" textLength="48.6" lengthAdjust="spacingAndGlyphs">ACTIN</text>
<text x="334.3" y="570.4" font-size="15.4" font-weight="bold" fill="#8a8a8a" textLength="55" lengthAdjust="spacingAndGlyphs">epsilon</text>
<text x="423" y="570.4" font-size="15.4" font-weight="bold" fill="#8a8a8a" textLength="30.5" lengthAdjust="spacingAndGlyphs">zeta</text>
<text x="265.6" y="632.3" font-size="15.4" font-weight="bold" fill="#8a8a8a" textLength="40.4" lengthAdjust="spacingAndGlyphs">alpha</text>
<text x="334.3" y="631.3" font-size="15.4" font-weight="bold" fill="#8a8a8a" textLength="54.5" lengthAdjust="spacingAndGlyphs">gamma</text>
<text x="424" y="632" font-size="15.4" font-weight="bold" fill="#8a8a8a" textLength="31.4" lengthAdjust="spacingAndGlyphs">beta</text>
<text x="265.4" y="694.2" font-size="14.5" font-weight="bold" fill="#8a8a8a" textLength="51" lengthAdjust="spacingAndGlyphs">AML1a</text>
<text x="334.2" y="694.2" font-size="14.5" font-weight="bold" fill="#8a8a8a" textLength="64.6" lengthAdjust="spacingAndGlyphs">AML1a/b</text>
<text x="416.4" y="694.2" font-size="14.5" font-weight="bold" fill="#8a8a8a" textLength="51.6" lengthAdjust="spacingAndGlyphs">AML1c</text>
<text transform="translate(0 605.2) scale(1 1)" x="251.32 262.16 270.15 280.07 288.85 299.49 307.68" y="0" font-size="10.2" font-weight="bold" stroke="#000" stroke-width="0.15">K12345C</text>
<text transform="translate(0 605.2) scale(1 1)" x="328.32 337.16 345.95 355.97 365.25 375.59 383.78" y="0" font-size="10.2" font-weight="bold" stroke="#000" stroke-width="0.15">K12345C</text>
<text transform="translate(0 605.2) scale(1 1)" x="402.72 412.16 420.15 428.67 437.55 447.89 455.88" y="0" font-size="10.2" font-weight="bold" stroke="#000" stroke-width="0.15">K12345C</text>
<text transform="translate(0 668) scale(1 1)" x="252.32 261.76 270.15 280.07 289.15 299.49 307.68" y="0" font-size="10.2" font-weight="bold" stroke="#000" stroke-width="0.15">K12345C</text>
<text transform="translate(0 668) scale(1 1)" x="328.32 337.16 345.75 355.87 365.25 375.69 383.78" y="0" font-size="10.2" font-weight="bold" stroke="#000" stroke-width="0.15">K12345C</text>
<text transform="translate(0 668.3) scale(1 1)" x="413.02 422.56 427.55 435.07 441.85 449.79 458.38" y="0" font-size="10.2" font-weight="bold" stroke="#000" stroke-width="0.15">K12345C</text>
<text transform="translate(0 729.6) scale(1 1)" x="260.02 269.16 274.15 280.37 289.15 297.79 307.78" y="0" font-size="10.2" font-weight="bold" stroke="#000" stroke-width="0.15">K12345C</text>
<text transform="translate(0 729.6) scale(1 1)" x="330.52 339.26 346.95 354.37 363.15 372.99 381.48" y="0" font-size="10.2" font-weight="bold" stroke="#000" stroke-width="0.15">K12345C</text>
<text transform="translate(0 729.6) scale(1 1)" x="404.72 413.86 419.85 428.67 436.15 447.49 454.78" y="0" font-size="10.2" font-weight="bold" stroke="#000" stroke-width="0.15">K12345C</text>
</svg></body></html>
